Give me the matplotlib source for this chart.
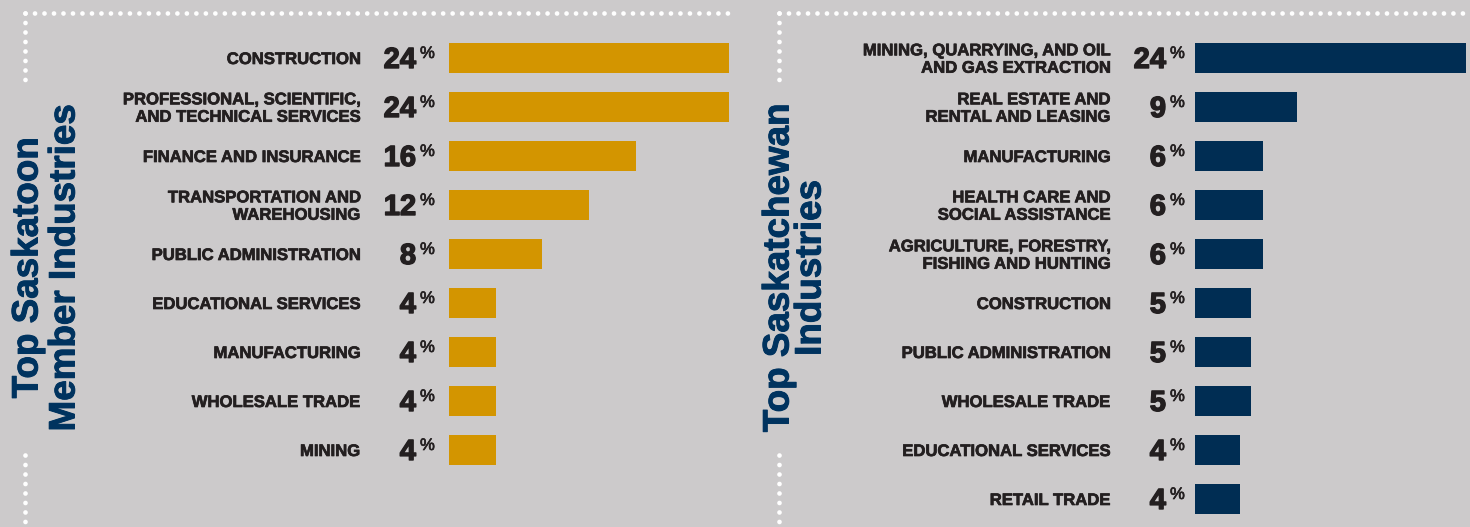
import matplotlib.pyplot as plt
import matplotlib.transforms as mtransforms
import matplotlib.patheffects as pe
import numpy as np

plt.rcParams['font.family'] = ['Liberation Sans', 'DejaVu Sans']

# data
left_title = ['Top Saskatoon', 'Member Industries']
left_cats = ['CONSTRUCTION', 'PROFESSIONAL, SCIENTIFIC,\nAND TECHNICAL SERVICES',
             'FINANCE AND INSURANCE', 'TRANSPORTATION AND\nWAREHOUSING',
             'PUBLIC ADMINISTRATION', 'EDUCATIONAL SERVICES', 'MANUFACTURING',
             'WHOLESALE TRADE', 'MINING']
left_vals = [24, 24, 16, 12, 8, 4, 4, 4, 4]

right_title = ['Top Saskatchewan', 'Industries']
right_cats = ['MINING, QUARRYING, AND OIL\nAND GAS EXTRACTION', 'REAL ESTATE AND\nRENTAL AND LEASING',
              'MANUFACTURING', 'HEALTH CARE AND\nSOCIAL ASSISTANCE',
              'AGRICULTURE, FORESTRY,\nFISHING AND HUNTING', 'CONSTRUCTION',
              'PUBLIC ADMINISTRATION', 'WHOLESALE TRADE', 'EDUCATIONAL SERVICES', 'RETAIL TRADE']
right_vals = [24, 9, 6, 6, 6, 5, 5, 5, 4, 4]

BG = '#cccacb'
GOLD = '#d39500'
NAVY = '#002d53'
TITLE = '#00335f'
DARK = '#231f20'

W, H = 1470, 527
fig = plt.figure(figsize=(W / 100, H / 100), dpi=100, facecolor=BG)

# overlay in pixel coords for the dotted frames and titles
ov = fig.add_axes([0, 0, 1, 1])
ov.set_xlim(0, W)
ov.set_ylim(H, 0)
ov.axis('off')

dot = dict(color='white', lw=3.4, linestyle=(0, (0.01, 2.0)), dash_capstyle='round')
# left panel frame
ov.plot([25.5, 730], [12.5, 12.5], **dot)
ov.plot([25.5, 25.5], [12.5, 88], **dot)
ov.plot([25.5, 25.5], [455, 530], **dot)
# right panel frame
ov.plot([779.5, 1472], [12.5, 12.5], **dot)
ov.plot([779.5, 779.5], [12.5, 88], **dot)
ov.plot([779.5, 779.5], [455, 530], **dot)

thick_title = [pe.withStroke(linewidth=0.7, foreground=TITLE)]
thick = [pe.withStroke(linewidth=0.5, foreground=DARK)]

# vertical titles
for txt, xb in zip(left_title, [37.5, 74.5]):
    ov.text(xb, 268, txt, rotation=90, rotation_mode='anchor', ha='center', va='baseline',
            fontsize=26.5, fontweight='bold', color=TITLE, path_effects=thick_title)
for txt, xb in zip(right_title, [788.5, 820.5]):
    ov.text(xb, 268, txt, rotation=90, rotation_mode='anchor', ha='center', va='baseline',
            fontsize=26.5, fontweight='bold', color=TITLE, path_effects=thick_title)


def panel(x0, x1, cats, vals, color, lab_off, num_off, pct_off):
    # rows at y = 58 + 49*i px
    top = 58 - 24.5
    bottom = top + 49 * 10
    ax = fig.add_axes([x0 / W, 1 - bottom / H, (x1 - x0) / W, (bottom - top) / H])
    ax.set_xlim(0, 24)
    ax.set_ylim(9.5, -0.5)
    ax.axis('off')
    y = np.arange(len(vals))
    ax.barh(y, vals, height=30 / 49, color=color, left=0)
    lab_tr = mtransforms.offset_copy(ax.transData, fig, x=lab_off, y=-1.5, units='dots')
    num_tr = mtransforms.offset_copy(ax.transData, fig, x=num_off, y=-10, units='dots')
    pct_tr = mtransforms.offset_copy(ax.transData, fig, x=pct_off, y=0, units='dots')
    for i, (c, v) in enumerate(zip(cats, vals)):
        ax.text(0, i, c, transform=lab_tr, ha='right', va='center', fontsize=12,
                fontweight='bold', color=DARK, linespacing=1.2, path_effects=thick)
        ax.text(0, i, str(v), transform=num_tr, ha='right', va='baseline', fontsize=21,
                fontweight='bold', color=DARK,
                path_effects=[pe.withStroke(linewidth=1.0, foreground=DARK)])
        ax.text(0, i, '%', transform=pct_tr, ha='left', va='baseline', fontsize=12,
                color=DARK, path_effects=[pe.withStroke(linewidth=0.5, foreground=DARK)])
    return ax


panel(449, 729, left_cats, left_vals, GOLD, -89, -33, -29)
panel(1195, 1466, right_cats, right_vals, NAVY, -85, -29, -25)

fig.savefig('out.png', dpi=100, facecolor=BG)
